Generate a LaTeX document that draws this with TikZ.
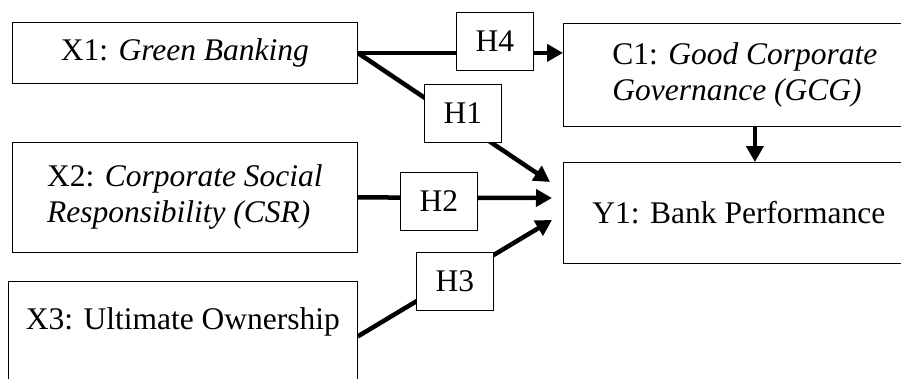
\documentclass[tikz,border=0pt]{standalone}
\usepackage{fontspec}
\setmainfont{Liberation Serif}
\usetikzlibrary{arrows.meta,backgrounds}
\tikzset{
	varbox/.style={draw, line width=0.8pt, fill=white, anchor=north west, align=left, inner sep=0pt, font=\fontsize{31.5}{36}\selectfont},
	hypbox/.style={draw, line width=0.8pt, fill=white, anchor=north west, minimum width=77pt, minimum height=58pt, inner sep=0pt, font=\fontsize{31.5}{36}\selectfont},
	link/.style={line width=4.5pt, -{Triangle[length=16pt,width=17pt]}}
}
\begin{document}
\begin{tikzpicture}[x=1pt,y=-1pt]
	\useasboundingbox (0,0) rectangle (901,378);
	% variables
	\node[varbox, minimum width=345pt, minimum height=61pt] (X1) at (12,22) {X1: \textit{Green Banking}};
	\node[varbox, minimum width=345pt, minimum height=110pt] (X2) at (12,142) {X2: \textit{Corporate Social}\\\textit{Responsibility (CSR)}};
	\node[varbox, minimum width=349pt, minimum height=110pt] (X3) at (8,281) {X3: Ultimate Ownership\\ \mbox{}};
	\node[varbox, minimum width=363pt, minimum height=103pt] (C1) at (563,23) {C1: \textit{Good Corporate}\\\textit{Governance (GCG)}};
	\node[varbox, minimum width=351pt, minimum height=101pt] (Y1) at (563,162) {Y1: Bank Performance};
	% hypotheses
	\node[hypbox] (H4) at (456,12) {H4};
	\node[hypbox] (H1) at (424,84) {H1};
	\node[hypbox] (H2) at (400,172) {H2};
	\node[hypbox] (H3) at (416,252) {H3};
	\coordinate (t1) at (550,182);
	\coordinate (t2) at (552,198);
	\coordinate (t3) at (552,220);
	\begin{scope}[on background layer]
		\draw[link] (X1.east) -- (X1.east -| C1.west);
		\draw[link] (X1.east) -- (t1);
		\draw[link] (X2.east) -- (t2);
		\draw[link] (X3.east) -- (t3);
	\end{scope}
	\draw[link] ([xshift=10pt]C1.south) -- ([xshift=10pt]C1.south |- Y1.north);
\end{tikzpicture}
\end{document}
